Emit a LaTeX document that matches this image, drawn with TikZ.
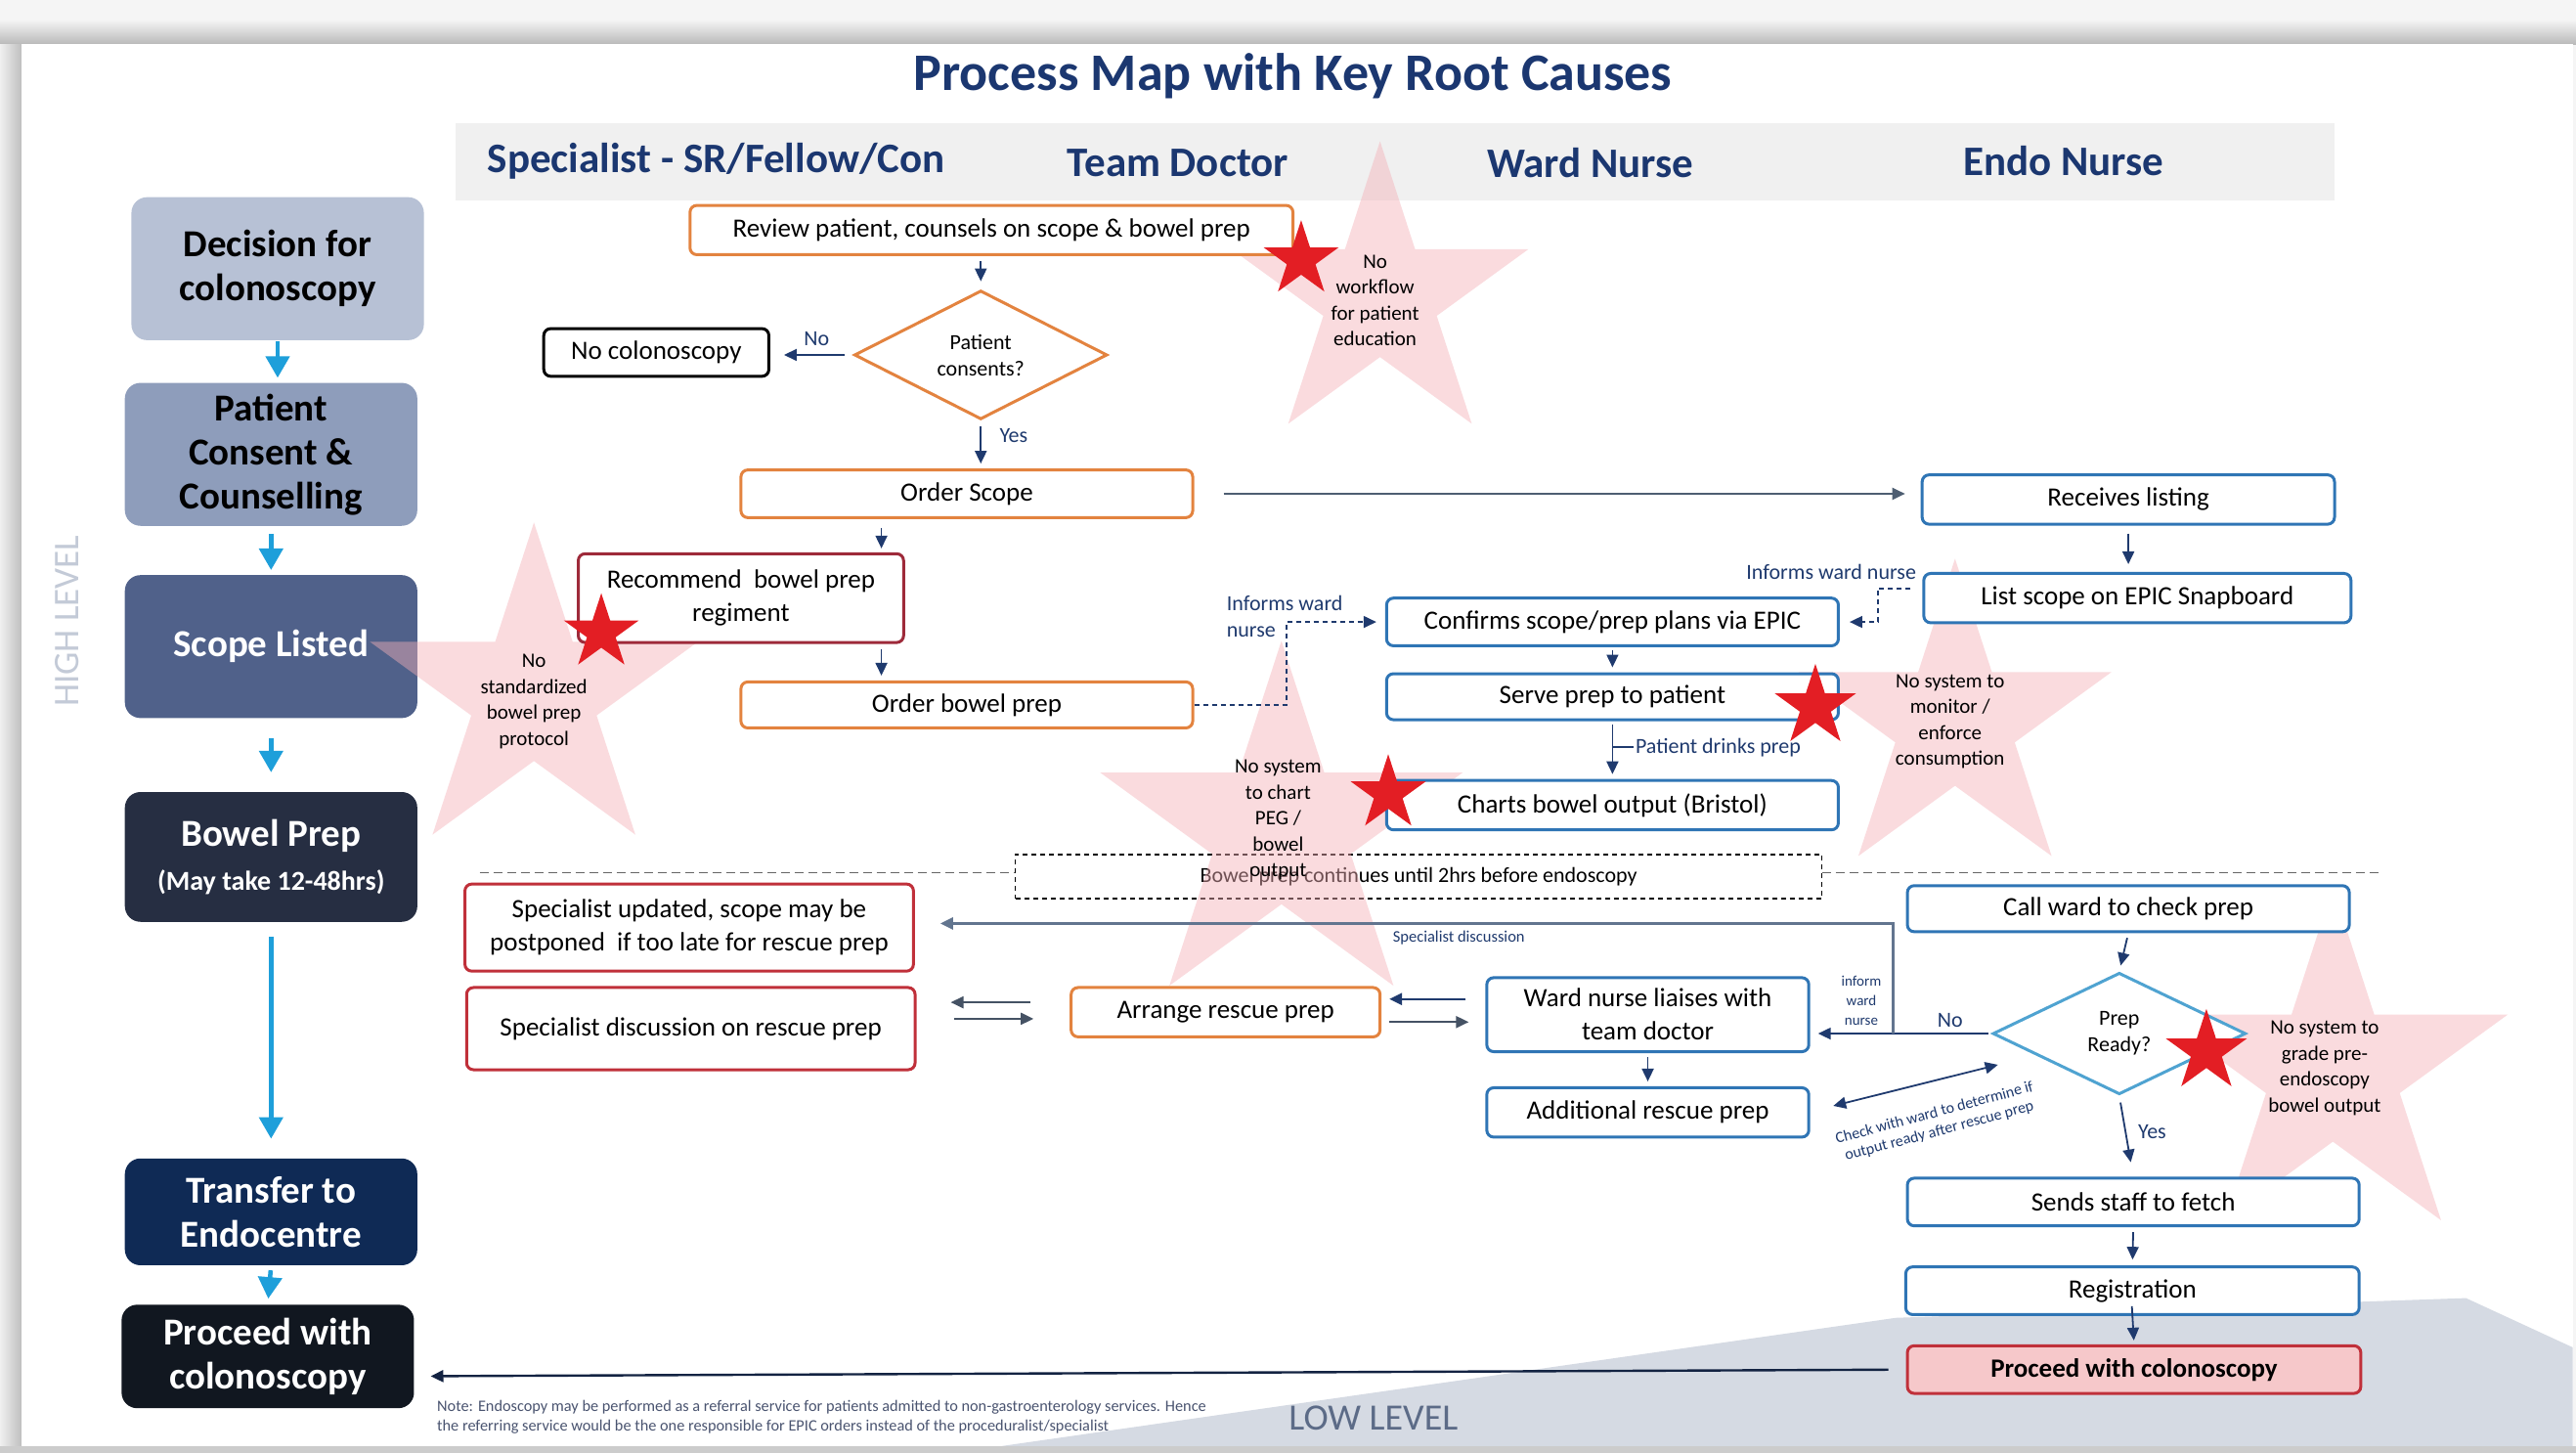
\documentclass[tikz,border=0pt]{standalone}
\usepackage{fontspec}
\setmainfont{Carlito}
\usetikzlibrary{arrows.meta,shapes.geometric,calc}
\definecolor{navy}{HTML}{1F3A6E}
\definecolor{titlenavy}{HTML}{1B3770}
\definecolor{orangeb}{HTML}{E3833F}
\definecolor{redb}{HTML}{C0303A}
\definecolor{maroon}{HTML}{9E2A3A}
\definecolor{blueb}{HTML}{2F75B5}
\definecolor{lblue}{HTML}{4FA3D1}
\definecolor{pinkfill}{HTML}{F6C8CA}
\definecolor{cyanb}{HTML}{1E9FDA}
\definecolor{starred}{HTML}{E31E24}
\definecolor{pinkst}{HTML}{F4B0B7}
\definecolor{hdrgray}{HTML}{F0F0F0}
\definecolor{lowgray}{HTML}{D5DAE3}
\definecolor{gline}{HTML}{62758F}
\definecolor{cA}{HTML}{B7C1D5}
\definecolor{cB}{HTML}{8E9DBB}
\definecolor{cC}{HTML}{50618A}
\definecolor{cD}{HTML}{262E42}
\definecolor{cE}{HTML}{0F2A55}
\definecolor{cF}{HTML}{111720}
\definecolor{hilev}{HTML}{C3CAD7}
\definecolor{lolev}{HTML}{5C6B87}
\definecolor{notec}{HTML}{4A5470}
\newcommand{\pxu}{1.6805pt}
\newcommand{\fsz}[2]{\fontsize{#1}{#2}\selectfont}
\newcommand{\starat}[4]{\fill[#4,shift={(#1,#2)}] (-90:#3) -- (-54:0.382*#3) -- (-18:#3) -- (18:0.382*#3) -- (54:#3) -- (90:0.382*#3) -- (126:#3) -- (162:0.382*#3) -- (198:#3) -- (234:0.382*#3) -- cycle;}
\tikzset{
 wh/.style 2 args={minimum width=#1*\pxu, minimum height=#2*\pxu},
 box/.style={draw, rounded corners=7pt, fill=white, line width=3pt, align=center, inner sep=2pt, text=black, font=\fsz{27}{34}},
 obox/.style={box, draw=orangeb},
 rbox/.style={box, draw=redb},
 bbox/.style={box, draw=blueb},
 diam/.style={diamond, draw, fill=white, line width=3pt, align=center, inner sep=0pt, text=black, font=\fsz{22}{27}},
 stage/.style={rounded corners=16pt, align=center, inner sep=2pt, font=\bfseries\fsz{39}{45}, minimum width=178*\pxu},
 arr/.style={draw=navy, line width=1.8pt, -{Triangle[length=13pt,width=12pt]}},
 darr/.style={arr, dash pattern=on 5pt off 4pt},
 barr/.style={draw=cyanb, line width=4.5pt, -{Triangle[length=22pt,width=24pt]}},
 lab/.style={text=navy, font=\fsz{22}{27}, inner sep=1pt},
 smlab/.style={text=navy, font=\fsz{16.5}{20}, inner sep=1pt, align=center},
 slab/.style={text=black, font=\fsz{21}{26.5}, align=center, inner sep=0pt},
 lane/.style={text=titlenavy, font=\bfseries\fsz{43}{46}},
 pst/.style={fill=pinkst, fill opacity=0.45},
 rst/.style={fill=starred},
}
\begin{document}
\begin{tikzpicture}[x=1.6805pt,y=-1.6805pt]
\useasboundingbox (0,0) rectangle (1568,884);
% frame
\fill[gray!8] (0,0) rectangle (1568,884);
\shade[top color=gray!8, bottom color=gray!55] (0,12) rectangle (1568,27);
\shade[left color=gray!12, right color=gray!50] (0,27) rectangle (13,884);
\fill[gray!40] (0,880) rectangle (1568,884);
\fill[white] (13,27) rectangle (1566,880);
% low level region
\fill[lowgray] (610,880) -- (1154,802) -- (1501,790) -- (1566,820) -- (1566,880) -- cycle;
% title
\node[text=titlenavy, font=\bfseries\fsz{54}{58}] (title) at (787,46) {Process Map with Key Root Causes};
% lane header band
\fill[hdrgray] (277,75) rectangle (1421,122);
\node[lane] (l1) at (436,98) {Specialist - SR/Fellow/Con};
\node[lane] (l2) at (717,99) {Team Doctor};
\node[lane] (l3) at (968,99) {Ward Nurse};
\node[lane] (l4) at (1256,98) {Endo Nurse};
% level labels
\node[rotate=90, text=hilev, font=\fsz{37}{40}] (hl) at (41,378) {HIGH LEVEL};
\node[text=lolev, font=\fsz{38}{42}] (ll) at (836,863) {LOW LEVEL};
% stage boxes
\node[stage, fill=cA, text=black, minimum height=87*\pxu] (s1) at (169,163.5) {Decision for\\colonoscopy};
\node[stage, fill=cB, text=black, minimum height=87*\pxu] (s2) at (165,276.5) {Patient\\Consent \&\\Counselling};
\node[stage, fill=cC, text=white, minimum height=87*\pxu] (s3) at (165,393.5) {Scope Listed};
\node[stage, fill=cD, text=white, minimum height=79*\pxu] (s4) at (165,521.5) {Bowel Prep\\{\fsz{28}{34}(May take 12-48hrs)}};
\node[stage, fill=cE, text=white, minimum height=65*\pxu] (s5) at (165,737.5) {Transfer to\\Endocentre};
\node[stage, fill=cF, text=white, minimum height=63*\pxu] (s6) at (163,825.5) {Proceed with\\colonoscopy};
\draw[barr, shorten <=1pt, shorten >=5pt] (s1.south) -- (s1.south |- s2.north);
\draw[barr, shorten <=8pt, shorten >=5pt] (s2.south) -- (s2.south |- s3.north);
\draw[barr, shorten <=20pt, shorten >=20pt] (s3.south) -- (s4.north);
\draw[barr, shorten <=15pt, shorten >=20pt] (s4.south) -- (s5.north);
\draw[barr, shorten <=5pt, shorten >=6pt] (s5.south) -- (s6.north);
% dashed separator and dashed info box (under the pale stars)
\draw[gray!80!black, line width=1.6pt, dash pattern=on 9pt off 5pt] (292,531) -- (618,531);
\draw[gray!80!black, line width=1.6pt, dash pattern=on 9pt off 5pt] (1109,531) -- (1450,531);
\node[draw=black, line width=1.5pt, dash pattern=on 5pt off 4pt, wh={491}{27}, text=black, font=\fsz{22}{26}] (bpc) at (863.5,533.5) {Bowel prep continues until 2hrs before endoscopy};
% pale stars
\starat{840}{181}{95}{pst}
\starat{325}{423}{105}{pst}
\starat{780}{506}{116}{pst}
\starat{1190}{440}{100}{pst}
\starat{1420}{652}{112}{pst}
% process boxes
\node[obox, wh={367}{30}] (rev) at (603.5,140) {Review patient, counsels on scope \& bowel prep};
\node[diam, draw=orangeb, wh={154}{74}] (pc) at (597,216) {Patient\\consents?};
\node[box, draw=black, wh={137}{29}] (nocol) at (399.5,214.5) {No colonoscopy};
\node[obox, wh={275}{29}] (os) at (588.5,300.5) {Order Scope};
\node[box, draw=maroon, wh={198}{54}] (rec) at (451,364) {Recommend\ \ bowel prep\\regiment};
\node[obox, wh={275}{28}] (obp) at (588.5,429) {Order bowel prep};
\node[bbox, wh={251}{30}] (rl) at (1295.5,304) {Receives listing};
\node[bbox, wh={260}{30}] (ls) at (1301,364) {List scope on EPIC Snapboard};
\node[bbox, wh={275}{29}] (cf) at (981.5,378.5) {Confirms scope/prep plans via EPIC};
\node[bbox, wh={275}{28}] (sp) at (981.5,424) {Serve prep to patient};
\node[bbox, wh={275}{30}] (cb) at (981.5,490) {Charts bowel output (Bristol)};
\node[rbox, wh={273}{53}] (su) at (419.5,564.5) {Specialist updated, scope may be\\postponed\ \ if too late for rescue prep};
\node[rbox, wh={273}{50}] (sd) at (420.5,626) {Specialist discussion on rescue prep};
\node[obox, wh={188}{30}] (ar) at (746,616) {Arrange rescue prep};
\node[bbox, wh={196}{45}] (wn) at (1003,617.5) {Ward nurse liaises with\\team doctor};
\node[bbox, wh={196}{30}] (ad) at (1003,677) {Additional rescue prep};
\node[bbox, wh={269}{28}] (cw) at (1295.5,553) {Call ward to check prep};
\node[diam, draw=lblue, wh={154}{74}] (pr) at (1290,629) {Prep\\Ready?};
\node[bbox, wh={275}{29}] (ss) at (1298.5,731.5) {Sends staff to fetch};
\node[bbox, wh={276}{29}] (rg) at (1298,785.5) {Registration};
\node[box, draw=redb, fill=pinkfill, wh={276}{29}, font=\bfseries\fsz{27}{32}] (pe) at (1299,833.5) {Proceed with colonoscopy};
% connectors
\draw[arr, shorten <=5pt, shorten >=8pt] (rev.south -| pc.north) -- (pc.north);
\draw[arr, shorten <=8pt, shorten >=14pt] (pc.west) -- (pc.west -| nocol.east);
\node[lab] (lno1) at (497,206) {No};
\draw[arr, shorten <=6pt, shorten >=5pt] (pc.south) -- (pc.south |- os.north);
\node[lab] (lyes1) at (617,265) {Yes};
\coordinate (osa) at ($(os.south)+(-52,0)$);
\draw[arr, shorten <=9pt, shorten >=4pt] (osa) -- (osa |- rec.north);
\coordinate (reca) at (rec.south -| osa);
\draw[arr, shorten <=5pt, shorten >=5pt] (reca) -- (reca |- obp.north);
\draw[arr, draw=gline!80!black, line width=2.2pt, shorten <=30pt, shorten >=16pt] (os.east) -- (os.east -| rl.west);
\draw[arr, shorten <=8pt, shorten >=8pt] (rl.south) -- (rl.south |- ls.north);
\draw[darr, shorten <=12pt, shorten >=10pt] ($(ls.west)+(0,-6)$) -- ++(-27,0) |- (cf.east);
\node[lab, anchor=east] (linf1) at (1167,348) {Informs ward nurse};
\draw[darr, shorten >=9pt] (obp.east) -- ++(56,0) |- (cf.west);
\node[lab, anchor=west, align=left] (linf2) at (746,375) {Informs ward\\nurse};
\draw[arr, shorten <=3pt, shorten >=5pt] (cf.south) -- (sp.north);
\draw[arr, shorten <=3pt, shorten >=5pt] (sp.south) -- (cb.north);
\coordinate (drk) at ($(sp.south)!0.45!(cb.north)$);
\draw[navy, line width=1.6pt] (drk) -- ++(13,0) node[lab, anchor=west] (ldrk) {Patient drinks prep};
\draw[arr, shorten <=5pt, shorten >=6pt] (cw.south) -- (pr.north);
\draw[arr, shorten <=7pt, shorten >=15pt] (pr.south) -- (ss.north);
\node[lab] (lyes2) at (1310,689) {Yes};
\draw[arr, shorten <=5pt, shorten >=6pt] (ss.south) -- (rg.south |- rg.north);
\draw[arr, shorten <=-10pt, shorten >=4pt] (rg.south) -- (pe.north);
\draw[arr, shorten <=3pt, shorten >=8pt] (pr.west) -- (pr.west -| wn.east);
\node[lab] (lno2) at (1187,621) {No};
\coordinate (jn) at ($(pr.west)+(-60,0)$);
\draw[arr, draw=gline, line width=3pt, shorten >=26pt] (jn) |- ($(su.east)+(0,-2.5)$);
\node[smlab] (lsd) at (888,571) {Specialist discussion};
\node[smlab, font=\fsz{15}{20}] (liwn) at (1133,609) {inform\\ward\\nurse};
\coordinate (art) at ($(ar.west)+(0,-6)$);
\coordinate (arb) at ($(ar.west)+(0,4)$);
\draw[arr, line width=2.2pt, draw=gline!70!black, shorten <=40pt, shorten >=35pt] (art) -- (art -| sd.east);
\draw[arr, line width=2.2pt, draw=gline!70!black, shorten <=38pt, shorten >=37pt] (arb -| sd.east) -- (arb);
\coordinate (wnt) at ($(wn.west)+(0,-9.5)$);
\coordinate (wnb) at ($(wn.west)+(0,4.5)$);
\draw[arr, line width=2.2pt, shorten <=20pt, shorten >=8pt] (wnt) -- (wnt -| ar.east);
\draw[arr, line width=2.2pt, draw=gline!70!black, shorten <=8pt, shorten >=17pt] (wnb -| ar.east) -- (wnb);
\draw[arr, shorten <=4pt, shorten >=5pt] (wn.south) -- (ad.north);
\draw[arr, {Triangle[length=13pt,width=12pt]}-{Triangle[length=13pt,width=12pt]}] ($(pr.west)+(4,19)$) -- ($(ad.east)+(14,-4)$);
\node[smlab, rotate=15, font=\fsz{16}{19}] (lchk) at (1179,683) {Check with ward to determine if\\output ready after rescue prep};
\draw[arr, draw=navy!60!black, line width=2.4pt, shorten <=18pt] (pe.west) -- ($(s6.east)+(10,12)$);
% red stars
\starat{792}{158}{24}{rst}
\starat{366}{385}{24}{rst}
\starat{1105}{430}{26}{rst}
\starat{845}{483}{24}{rst}
\starat{1343}{640}{26}{rst}
% star labels
\node[slab] (t1) at (837,183) {No\\workflow\\for patient\\education};
\node[slab] (t2) at (325,427) {No\\standardized\\bowel prep\\protocol};
\node[slab] (t3) at (778,499) {No system\\to chart\\PEG /\\bowel\\output};
\node[slab] (t4) at (1187,439) {No system to\\monitor /\\enforce\\consumption};
\node[slab] (t5) at (1415,650) {No system to\\grade pre-\\endoscopy\\bowel output};
% note
\node[anchor=north west, align=left, text=notec, font=\fsz{16.3}{20}, inner sep=0pt] (note) at (266,852) {Note: Endoscopy may be performed as a referral service for patients admitted to non-gastroenterology services. Hence\\the referring service would be the one responsible for EPIC orders instead of the proceduralist/specialist};
\end{tikzpicture}
\end{document}
